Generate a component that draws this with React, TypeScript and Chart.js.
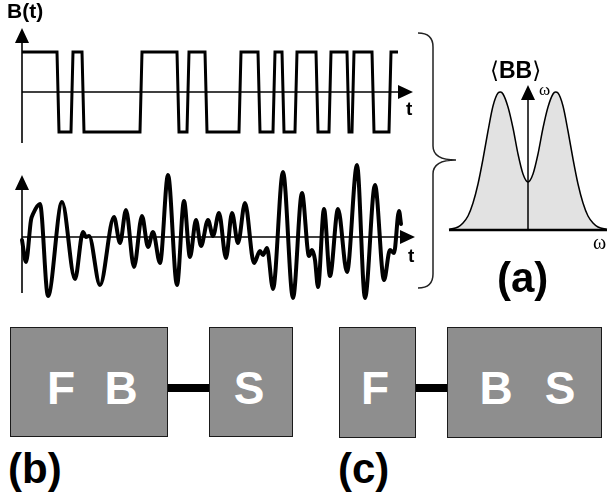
import React, { useEffect, useRef } from "react";
import { Chart, registerables } from "chart.js";

Chart.register(...registerables);

// ---------- data ----------
// Telegraph (square-wave) noise B(t): time points and levels (+1 / -1)
const squareT = [0, 35, 37, 49, 51, 60, 62, 118, 120, 155, 157, 165, 167, 183, 185, 217, 219, 236, 238, 251, 253, 260, 262, 273, 275, 294, 296, 307, 309, 325, 327, 330, 332, 350, 352, 367, 369, 376];
const squareB = [1, 1, -1, -1, 1, 1, -1, -1, 1, 1, -1, -1, 1, 1, -1, -1, 1, 1, -1, -1, 1, 1, -1, -1, 1, 1, -1, -1, 1, 1, -1, -1, 1, 1, -1, -1, 1, 1];

// Gaussian-like noise: extrema of the curve
const noiseT = [0, 4, 9, 11, 18, 26, 40, 53, 61, 64, 67, 78, 92, 98, 104, 112, 120, 126, 131, 138, 146, 155, 162, 168, 174, 179, 186, 191, 197, 204, 210, 216, 223, 232, 238, 241, 245, 251, 261, 271, 280, 287, 290, 293, 296, 302, 308, 316, 325, 335, 343, 353, 362, 368, 372, 377, 379];
const noiseV = [-0.3, -2.5, 1.7, 2.3, 3.3, -5.9, 3.5, -4.2, 0.5, 0.0, 0.1, -4.8, 2.0, -0.6, 2.7, -3.0, 2.1, -1.0, 0.5, -2.6, 6.2, -4.8, 3.6, -2.0, 1.7, -0.9, 1.7, 0.1, 2.4, -2.1, 2.4, -0.6, 3.4, -2.6, -1.4, -1.8, -1.1, -5.2, 6.5, -6.1, 4.4, -1.9, -1.3, -2.3, -5.0, 2.8, -3.9, 2.8, -3.5, 7.2, -6.1, 5.2, -4.3, -1.3, -1.6, 2.6, 1.3];

// Spectrum <BB>_omega
const specW = [-7.9, -7.0, -6.5, -6.0, -5.5, -5.0, -4.5, -4.0, -3.5, -3.0, -2.75, -2.5, -2.0, -1.5, -1.0, -0.5, 0, 0.5, 1.0, 1.5, 2.0, 2.5, 2.75, 3.0, 3.5, 4.0, 4.5, 5.0, 5.5, 6.0, 6.5, 7.0, 7.9];
const specS = [0.05, 0.3, 0.7, 1.4, 2.7, 4.6, 7.1, 9.9, 12.4, 13.7, 13.8, 13.6, 12.3, 10.2, 7.6, 5.6, 4.8, 5.6, 7.6, 10.2, 12.3, 13.6, 13.8, 13.7, 12.4, 9.9, 7.1, 4.6, 2.7, 1.4, 0.7, 0.3, 0.05];

// axis extents (data units)
const squareAxis = { tEnd: 391, vTop: 1.6, vBottom: -1.275 };
const noiseAxis = { tEnd: 393, vTop: 6.2, vBottom: -5.6 };
const specAxis = { wMin: -7.9, wMax: 7.9, sTop: 14.5 };

const SANS = '"Liberation Sans", Arial, Helvetica, sans-serif';
const SERIF = '"Liberation Serif", "DejaVu Serif", serif';

type AxisCfg = {
  hFrom: number; hTo: number; hAt: number; hArrow: boolean; hWidth: number;
  vFrom: number; vTo: number; vAt: number; vWidth: number;
};

function axesPlugin(id: string, a: AxisCfg) {
  return {
    id,
    afterDatasetsDraw(chart: any) {
      const ctx = chart.ctx as CanvasRenderingContext2D;
      const xs = chart.scales.x;
      const ys = chart.scales.y;
      const head = 15;
      const half = 7;
      ctx.save();
      ctx.strokeStyle = "#000";
      ctx.fillStyle = "#000";
      ctx.lineCap = "butt";
      // horizontal
      const hy = ys.getPixelForValue(a.hAt);
      const hx0 = xs.getPixelForValue(a.hFrom);
      const hx1 = xs.getPixelForValue(a.hTo);
      ctx.lineWidth = a.hWidth;
      ctx.beginPath();
      ctx.moveTo(hx0, hy);
      ctx.lineTo(a.hArrow ? hx1 - head + 2 : hx1, hy);
      ctx.stroke();
      if (a.hArrow) {
        ctx.beginPath();
        ctx.moveTo(hx1, hy);
        ctx.lineTo(hx1 - head, hy - half);
        ctx.lineTo(hx1 - head, hy + half);
        ctx.closePath();
        ctx.fill();
      }
      // vertical
      const vx = xs.getPixelForValue(a.vAt);
      const vy0 = ys.getPixelForValue(a.vFrom);
      const vy1 = ys.getPixelForValue(a.vTo);
      ctx.lineWidth = a.vWidth;
      ctx.beginPath();
      ctx.moveTo(vx, vy0);
      ctx.lineTo(vx, vy1 + head - 2);
      ctx.stroke();
      ctx.beginPath();
      ctx.moveTo(vx, vy1);
      ctx.lineTo(vx - half, vy1 + head);
      ctx.lineTo(vx + half, vy1 + head);
      ctx.closePath();
      ctx.fill();
      ctx.restore();
    },
  };
}

// curly brace grouping the two signals (drawn on the spectrum canvas)
const bracePlugin = {
  id: "brace",
  afterDraw(chart: any) {
    const ctx = chart.ctx as CanvasRenderingContext2D;
    const ox = 410, oy = 20; // canvas offset on page
    const xl = 418 - ox, xv = 433 - ox, xt = 456 - ox;
    const yTop = 33 - oy, yMid = 160 - oy, yBot = 288 - oy, r = 14;
    ctx.save();
    ctx.strokeStyle = "#222";
    ctx.lineWidth = 1.5;
    ctx.beginPath();
    ctx.moveTo(xl, yTop);
    ctx.quadraticCurveTo(xv, yTop, xv, yTop + r);
    ctx.lineTo(xv, yMid - r);
    ctx.quadraticCurveTo(xv, yMid, xt, yMid);
    ctx.quadraticCurveTo(xv, yMid, xv, yMid + r);
    ctx.lineTo(xv, yBot - r);
    ctx.quadraticCurveTo(xv, yBot, xl, yBot);
    ctx.stroke();
    ctx.restore();
  },
};

function baseOptions(xmin: number, xmax: number, ymin: number, ymax: number) {
  return {
    responsive: false,
    maintainAspectRatio: false,
    animation: false as const,
    events: [] as any[],
    layout: { padding: 0 },
    plugins: { legend: { display: false }, tooltip: { enabled: false }, title: { display: false } },
    scales: {
      x: { type: "linear" as const, min: xmin, max: xmax, display: false },
      y: { type: "linear" as const, min: ymin, max: ymax, display: false },
    },
    elements: { point: { radius: 0 } },
  };
}

const Label = ({ text, x, base, size, bold = true, color = "#000", family = SANS, center = false, asc = 0.8465 }: any) => (
  <span
    style={{
      position: "absolute",
      left: x,
      top: base - asc * size,
      fontSize: size,
      lineHeight: 1,
      fontFamily: family,
      fontWeight: bold ? 700 : 400,
      color,
      whiteSpace: "pre",
      transform: center ? "translateX(-50%)" : undefined,
    }}
  >
    {text}
  </span>
);

const Box = ({ x, y, w, h }: any) => (
  <div
    style={{
      position: "absolute",
      left: x,
      top: y,
      width: w,
      height: h,
      boxSizing: "border-box",
      background: "#8e8e8e",
      border: "1.5px solid #1a1a1a",
    }}
  />
);

const Link = ({ x0, x1, y }: any) => (
  <div style={{ position: "absolute", left: x0, top: y - 4, width: x1 - x0, height: 8, background: "#000" }} />
);

export default function App() {
  const sqRef = useRef<HTMLCanvasElement>(null);
  const nzRef = useRef<HTMLCanvasElement>(null);
  const spRef = useRef<HTMLCanvasElement>(null);

  useEffect(() => {
    const charts: Chart[] = [];

    charts.push(
      new Chart(sqRef.current!, {
        type: "line",
        data: {
          datasets: [
            {
              data: squareT.map((t, i) => ({ x: t, y: squareB[i] })),
              borderColor: "#000",
              borderWidth: 3,
              tension: 0,
              borderJoinStyle: "miter",
              fill: false,
            },
          ],
        },
        options: baseOptions(-22, 408, -1.45, 2.3) as any,
        plugins: [
          axesPlugin("sqAxes", {
            hFrom: 0, hTo: squareAxis.tEnd, hAt: 0, hArrow: true, hWidth: 1.6,
            vFrom: squareAxis.vBottom, vTo: squareAxis.vTop, vAt: 0, vWidth: 1.6,
          }),
        ],
      })
    );

    charts.push(
      new Chart(nzRef.current!, {
        type: "line",
        data: {
          datasets: [
            {
              data: noiseT.map((t, i) => ({ x: t, y: noiseV[i] })),
              borderColor: "#000",
              borderWidth: 4,
              cubicInterpolationMode: "monotone",
              borderJoinStyle: "round",
              borderCapStyle: "round",
              fill: false,
            },
          ],
        },
        options: baseOptions(-22, 408, -6.3, 8.7) as any,
        plugins: [
          axesPlugin("nzAxes", {
            hFrom: 0, hTo: noiseAxis.tEnd, hAt: 0, hArrow: true, hWidth: 1.6,
            vFrom: noiseAxis.vBottom, vTo: noiseAxis.vTop, vAt: 0, vWidth: 1.6,
          }),
        ],
      })
    );

    charts.push(
      new Chart(spRef.current!, {
        type: "line",
        data: {
          datasets: [
            {
              data: specW.map((w, i) => ({ x: w, y: specS[i] })),
              borderColor: "#000",
              borderWidth: 1.5,
              backgroundColor: "#e2e2e2",
              cubicInterpolationMode: "monotone",
              fill: "origin",
            },
          ],
        },
        options: baseOptions(-11.8, 8.1, -9, 21) as any,
        plugins: [
          axesPlugin("spAxes", {
            hFrom: specAxis.wMin, hTo: specAxis.wMax, hAt: 0, hArrow: false, hWidth: 2.5,
            vFrom: 0, vTo: specAxis.sTop, vAt: 0, vWidth: 1.5,
          }),
          bracePlugin,
        ],
      })
    );

    return () => charts.forEach((c) => c.destroy());
  }, []);

  return (
    <div style={{ position: "absolute", left: 0, top: 0, width: 609, height: 492, background: "#fff", overflow: "hidden" }}>
      <canvas ref={sqRef} width={430} height={150} style={{ position: "absolute", left: 0, top: 0 }} />
      <canvas ref={nzRef} width={430} height={150} style={{ position: "absolute", left: 0, top: 150 }} />
      <canvas ref={spRef} width={199} height={300} style={{ position: "absolute", left: 410, top: 20 }} />

      <Label text="B(t)" x={7} base={18} size={21} />
      <Label text="t" x={406} base={115} size={19} />
      <Label text="t" x={408} base={262} size={19} />

      <span
        style={{
          position: "absolute",
          left: 490,
          top: 78 - 0.8465 * 23,
          fontSize: 23,
          lineHeight: 1,
          fontFamily: SANS,
          fontWeight: 700,
          whiteSpace: "pre",
        }}
      >
        <span style={{ fontFamily: '"DejaVu Sans", sans-serif', fontWeight: 400 }}>⟨</span>
        BB
        <span style={{ fontFamily: '"DejaVu Sans", sans-serif', fontWeight: 400 }}>⟩</span>
      </span>
      <Label text="ω" x={539} base={95} size={17} bold={false} family={SERIF} asc={0.8375} />
      <Label text="ω" x={593} base={249} size={20} bold={false} family={SERIF} asc={0.8375} />
      <Label text="(a)" x={497} base={293} size={42} />

      <Box x={10} y={327} w={158} h={110} />
      <Link x0={168} x1={209} y={388} />
      <Box x={209} y={327} w={84} h={110} />
      <Label text="F" x={61} base={404} size={46} color="#fff" center />
      <Label text="B" x={121} base={404} size={46} color="#fff" center />
      <Label text="S" x={249} base={404} size={46} color="#fff" center />
      <Label text="(b)" x={8} base={484} size={42} />

      <Box x={339} y={327} w={77} h={111} />
      <Link x0={416} x1={447} y={388} />
      <Box x={447} y={327} w={155} h={111} />
      <Label text="F" x={375} base={404} size={46} color="#fff" center />
      <Label text="B" x={496} base={404} size={46} color="#fff" center />
      <Label text="S" x={560} base={404} size={46} color="#fff" center />
      <Label text="(c)" x={338} base={484} size={42} />
    </div>
  );
}
